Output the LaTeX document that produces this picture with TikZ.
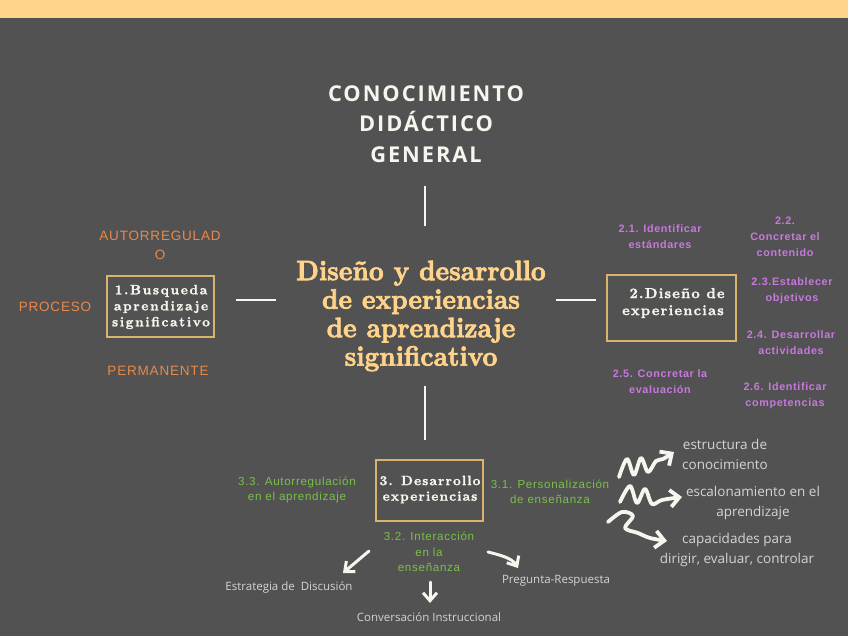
\documentclass[tikz,border=0pt]{standalone}
\usepackage{fontspec}
\usetikzlibrary{arrows.meta}
\newfontfamily\osans{Open Sans}
\newfontfamily\titlefont[LetterSpace=9]{Open Sans}
\newfontfamily\lsans[LetterSpace=6]{Liberation Sans}
\newfontfamily\lmb[Extension=.otf,FakeBold=2.5]{lmroman10-bold}
\newfontfamily\lmbsp[Extension=.otf,LetterSpace=12,FakeBold=1.5]{lmroman10-bold}
\newfontfamily\lmbspn[Extension=.otf,LetterSpace=8,FakeBold=1.5]{lmroman10-bold}
\definecolor{bg}{RGB}{82,82,82}
\definecolor{band}{RGB}{255,213,140}
\definecolor{gold}{RGB}{217,180,110}
\definecolor{cream}{RGB}{255,211,138}
\definecolor{orng}{RGB}{232,137,74}
\definecolor{purp}{RGB}{200,120,222}
\definecolor{grn}{RGB}{122,192,72}
\definecolor{lgray}{RGB}{212,212,212}
\definecolor{wht}{RGB}{246,246,238}
\tikzset{
  box/.style={draw=gold, line width=1.4pt, inner sep=0pt},
  boxtxt/.style={text=wht, align=center},
  orlab/.style={text=orng, align=center, font=\lsans\fontsize{13.5}{19}\selectfont},
  pulab/.style={text=purp, align=center, font=\lsans\bfseries\fontsize{10.8}{16}\selectfont},
  grlab/.style={text=grn, align=center, font=\lsans\fontsize{11.6}{15.5}\selectfont},
  gylab/.style={text=lgray, align=center, font=\osans\fontsize{11.5}{15}\selectfont},
  rtlab/.style={text=lgray, align=center, font=\osans\fontsize{13.5}{20}\selectfont},
  conn/.style={draw=wht, line width=1.6pt},
  warrow/.style={draw=wht, line width=3pt, line cap=round, line join=round, -{Straight Barb[length=8pt,width=14pt,line width=3pt]}},
  sq/.style={draw=wht, line width=3.8pt, line cap=round, line join=round, -{Straight Barb[length=9pt,width=17pt,line width=3.8pt]}},
}
\begin{document}
\begin{tikzpicture}[x=1pt,y=-1pt]
\fill[bg] (0,0) rectangle (848,636);
\fill[band] (0,0) rectangle (848,18);
\useasboundingbox (0,0) rectangle (848,636);

% title
\node[text=wht, align=center, font=\titlefont\bfseries\fontsize{21.8}{30.5}\selectfont] (title) at (426,124) {CONOCIMIENTO\\DIDÁCTICO\\GENERAL};
\coordinate (t1) at (425,186); \coordinate (t2) at (425,226);
\draw[conn] (t1) -- (t2);

% center
\node[text=cream, align=center, font=\lmb\fontsize{28}{28.5}\selectfont, xscale=0.92, transform shape] (center) at (421,316) {Diseño y desarrollo\\de experiencias\\de aprendizaje\\significativo};

\coordinate (l1) at (236,300); \coordinate (l2) at (276,300);
\coordinate (r1) at (556,300); \coordinate (r2) at (596,300);
\coordinate (d1) at (425,386); \coordinate (d2) at (425,440);
\draw[conn] (l1) -- (l2);
\draw[conn] (r1) -- (r2);
\draw[conn] (d1) -- (d2);

% box 1
\node[box, minimum width=107pt, minimum height=61pt] (b1) at (160.5,306.5) {};
\node[boxtxt, font=\lmbsp\fontsize{13.5}{16}\selectfont] (b1t) at (161,307) {1.Busqueda\\aprendizaje\\significativo};
\node[orlab] (auto) at (160,245) {AUTORREGULAD\\O};
\node[orlab] (proc) at (55,307) {PROCESO};
\node[orlab] (perm) at (158,371) {PERMANENTE};

% box 2
\node[box, minimum width=129pt, minimum height=66pt] (b2) at (671.5,308) {};
\node[boxtxt, font=\lmbspn\fontsize{14.5}{17}\selectfont] (b2t) at (673,303) {\hspace*{8pt}2.Diseño de\\experiencias};
\node[pulab] (p21) at (660,237) {2.1. Identificar\\estándares};
\node[pulab] (p22) at (785,237) {2.2.\\Concretar el\\contenido};
\node[pulab] (p23) at (792,290.5) {2.3.Establecer\\objetivos};
\node[pulab] (p24) at (791,343) {2.4. Desarrollar\\actividades};
\node[pulab] (p25) at (660,381.5) {2.5. Concretar la\\evaluación};
\node[pulab] (p26) at (785,396) {2.6. Identificar\\competencias};

% box 3
\node[box, minimum width=107pt, minimum height=61pt] (b3) at (429.5,490.5) {};
\node[boxtxt, font=\lmbspn\fontsize{13.5}{15.5}\selectfont] (b3t) at (430,489.5) {3. Desarrollo\\experiencias};
\node[grlab] (g33) at (297,490) {3.3. Autorregulación\\en el aprendizaje};
\node[grlab] (g31) at (550,492) {3.1. Personalización\\de enseñanza};
\node[grlab] (g32) at (429,552) {3.2. Interacción\\en la\\enseñanza};

% sub items
\node[gylab] (est) at (289,587) {Estrategia de\ \ Discusión};
\node[gylab] (conv) at (429,617) {Conversación Instruccional};
\node[gylab] (preg) at (556,581) {Pregunta-Respuesta};
\coordinate (a1s) at (369,551); \coordinate (a1e) at (343,573);
\coordinate (a2s) at (430,582); \coordinate (a2e) at (430,603);
\coordinate (a3s) at (488,552); \coordinate (a3e) at (518,568);
\draw[warrow] (a1s) -- (a1e);
\draw[warrow] (a2s) -- (a2e);
\draw[warrow] (a3s) .. controls (500,555) and (512,558) .. (a3e);

% right list
\node[rtlab] (r1t) at (725,454) {estructura de\\conocimiento};
\node[rtlab] (r2t) at (753,503) {escalonamiento en el\\aprendizaje};
\node[rtlab] (r3t) at (737,550) {capacidades para\\dirigir, evaluar, controlar};

\draw[sq] plot[smooth, tension=0.55] coordinates {(619,477) (627,459) (634,475) (641,458) (648,472) (656,461) (663,459) (674,452)};
\draw[sq] plot[smooth, tension=0.55] coordinates {(620,502) (630,486) (637,503) (645,489) (652,504) (662,500) (682,497)};
\draw[sq] plot[smooth, tension=0.55] coordinates {(608,522) (622,512) (633,516) (625,528) (638,533) (650,538) (667,541)};
\end{tikzpicture}
\end{document}
